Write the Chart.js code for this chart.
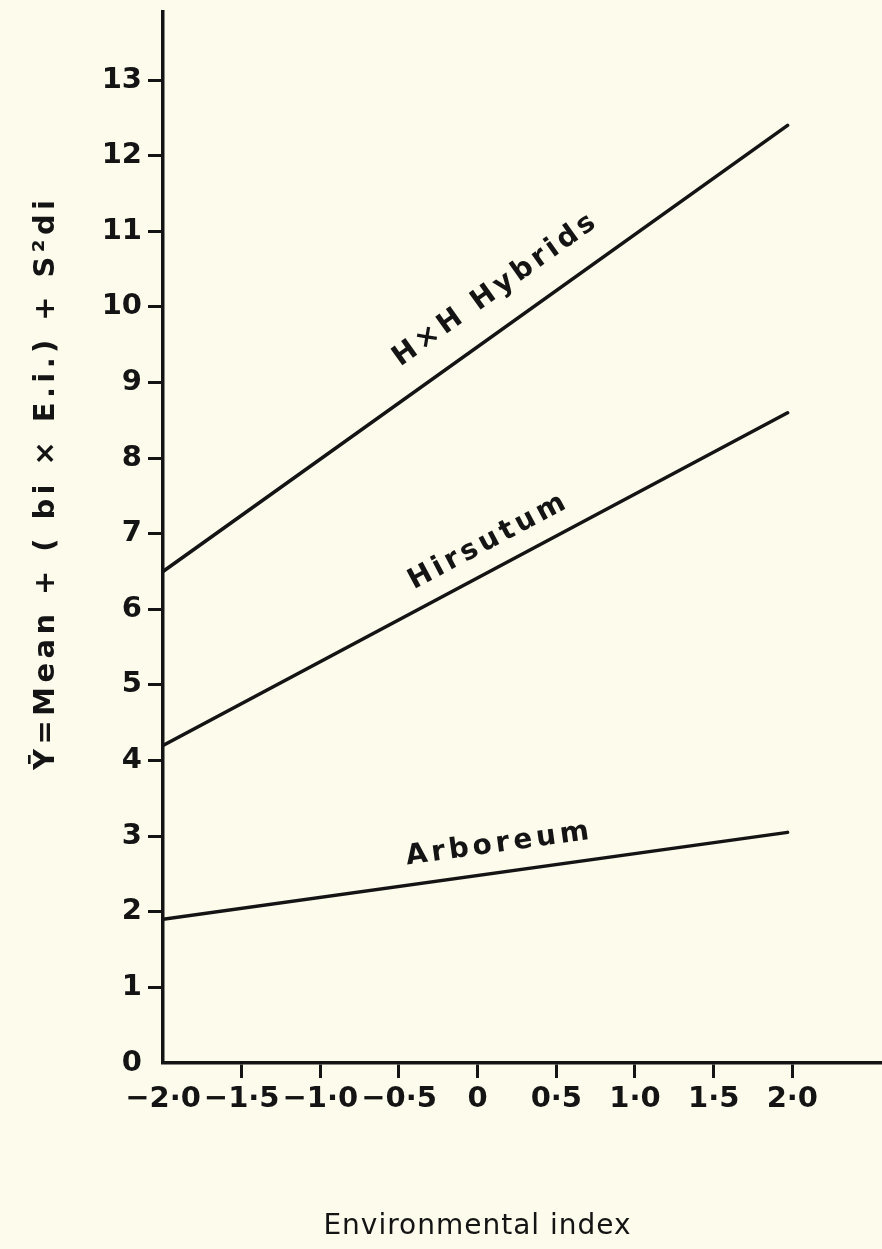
<!DOCTYPE html>
<html>
<head>
<meta charset="utf-8">
<script src="https://cdn.jsdelivr.net/npm/chart.js@4.4.1/dist/chart.umd.min.js"></script>
<style>
  html, body { margin: 0; padding: 0; background: #fcfbec; }
  #wrap { width: 882px; height: 1249px; }
</style>
</head>
<body>
<div id="wrap"><canvas id="c" width="882" height="1249"></canvas></div>
<script>
// Regression lines of the three cotton groups over the environmental index
const envIndex = [-2.0, 1.97];
const hybrids  = [6.5, 12.4];
const hirsutum = [4.2, 8.6];
const arboreum = [1.9, 3.05];

const seriesNames = ['H\u00D7H Hybrids', 'Hirsutum', 'Arboreum'];
const seriesValues = [hybrids, hirsutum, arboreum];
// x position (environmental index) where each line's name sits
const labelAt = [0.24, 0.14, 0.15];

const xTickValues = [-2.0, -1.5, -1.0, -0.5, 0, 0.5, 1.0, 1.5, 2.0];
const xTickLabels = ['\u22122\u00B70', '\u22121\u00B75', '\u22121\u00B70', '\u22120\u00B75', '0', '0\u00B75', '1\u00B70', '1\u00B75', '2\u00B70'];
const yTickValues = [0, 1, 2, 3, 4, 5, 6, 7, 8, 9, 10, 11, 12, 13];
const yTickLabels = ['0', '1', '2', '3', '4', '5', '6', '7', '8', '9', '10', '11', '12', '13'];

const xTitle = 'Environmental index';
const yTitle = '\u0232=Mean + ( bi \u00D7 E.i.) + S\u00B2di';

const INK = '#141414';
const PAPER = '#fcfbec';
const FONT = '"DejaVu Sans", sans-serif';
const labelOffsets = [36, 27, 28];

const datasets = seriesValues.map((vals, i) => ({
  label: seriesNames[i],
  data: envIndex.map((x, k) => ({ x: x, y: vals[k] })),
  borderColor: INK,
  borderWidth: 3.5,
  borderCapStyle: 'round',
  pointRadius: 0,
  fill: false,
  tension: 0
}));

function spacedText(ctx, text, x, y, spacing) {
  ctx.letterSpacing = spacing + 'px';
  const w = ctx.measureText(text).width - spacing;
  ctx.textAlign = 'left';
  ctx.fillText(text, x - w / 2, y);
  ctx.letterSpacing = '0px';
}

const paper = {
  id: 'paper',
  beforeDraw(chart) {
    const ctx = chart.ctx;
    ctx.save();
    ctx.fillStyle = PAPER;
    ctx.fillRect(0, 0, chart.width, chart.height);
    ctx.restore();
  },
  afterDatasetsDraw(chart) {
    const ctx = chart.ctx;
    const xs = chart.scales.x, ys = chart.scales.y;
    ctx.save();
    ctx.fillStyle = INK;
    ctx.font = 'bold 28px ' + FONT;
    ctx.textBaseline = 'middle';
    seriesValues.forEach((vals, i) => {
      const x0 = xs.getPixelForValue(envIndex[0]), y0 = ys.getPixelForValue(vals[0]);
      const x1 = xs.getPixelForValue(envIndex[1]), y1 = ys.getPixelForValue(vals[1]);
      const ang = Math.atan2(y1 - y0, x1 - x0);
      const t = (labelAt[i] - envIndex[0]) / (envIndex[1] - envIndex[0]);
      const yv = vals[0] + t * (vals[1] - vals[0]);
      const px = xs.getPixelForValue(labelAt[i]);
      const py = ys.getPixelForValue(yv);
      const off = labelOffsets[i];
      const cx = px + Math.sin(ang) * off;
      const cy = py - Math.cos(ang) * off;
      ctx.save();
      ctx.translate(cx, cy);
      ctx.rotate(ang);
      spacedText(ctx, seriesNames[i], 0, 0, 4);
      ctx.restore();
    });
    ctx.restore();
  },
  afterDraw(chart) {
    const ctx = chart.ctx;
    ctx.save();
    ctx.fillStyle = INK;
    ctx.textBaseline = 'alphabetic';
    ctx.font = '28px ' + FONT;
    spacedText(ctx, xTitle, 477, 1234, 1);

    ctx.translate(54, 485);
    ctx.rotate(-Math.PI / 2);
    ctx.font = 'bold 29px ' + FONT;
    ctx.letterSpacing = '0px';
    const base = ctx.measureText(yTitle).width;
    const n = [...yTitle].length;
    const sp = Math.max(0, (570 - base) / (n - 1));
    spacedText(ctx, yTitle, 0, 0, sp);
    ctx.restore();
  }
};

new Chart(document.getElementById('c'), {
  type: 'line',
  data: { datasets: datasets },
  plugins: [paper],
  options: {
    responsive: false,
    animation: false,
    events: [],
    layout: { padding: { top: 12, right: 0, left: 0, bottom: 0 } },
    plugins: { legend: { display: false }, tooltip: { enabled: false } },
    scales: {
      x: {
        type: 'linear',
        min: -2.0,
        max: 2.57,
        afterBuildTicks(scale) { scale.ticks = xTickValues.map(v => ({ value: v })); },
        afterFit(scale) { scale.height = 186; scale.paddingRight = 0; },
        border: { display: true, color: INK, width: 3.5 },
        grid: {
          display: true,
          drawOnChartArea: false,
          drawTicks: true,
          tickLength: 15,
          tickWidth: 3,
          tickColor: ctx => (ctx.tick && ctx.tick.value === -2 ? 'rgba(0,0,0,0)' : INK)
        },
        ticks: {
          autoSkip: false,
          maxRotation: 0,
          minRotation: 0,
          padding: 4,
          color: INK,
          font: { family: FONT, size: 29, weight: 'bold' },
          callback: (v) => {
            const i = xTickValues.findIndex(t => Math.abs(t - v) < 1e-9);
            return i >= 0 ? xTickLabels[i] : '';
          }
        }
      },
      y: {
        type: 'linear',
        min: 0,
        max: 13.9,
        afterBuildTicks(scale) { scale.ticks = yTickValues.map(v => ({ value: v })); },
        afterFit(scale) { scale.width = 163; scale.paddingTop = 0; scale.paddingBottom = 0; },
        border: { display: true, color: INK, width: 3.5 },
        grid: {
          display: true,
          drawOnChartArea: false,
          drawTicks: true,
          tickLength: 15,
          tickWidth: 3,
          tickColor: ctx => (ctx.tick && ctx.tick.value === 0 ? 'rgba(0,0,0,0)' : INK)
        },
        ticks: {
          autoSkip: false,
          padding: 6,
          color: INK,
          font: { family: FONT, size: 29, weight: 'bold' },
          callback: (v) => {
            const i = yTickValues.indexOf(v);
            return i >= 0 ? yTickLabels[i] : '';
          }
        }
      }
    }
  }
});
</script>
</body>
</html>
